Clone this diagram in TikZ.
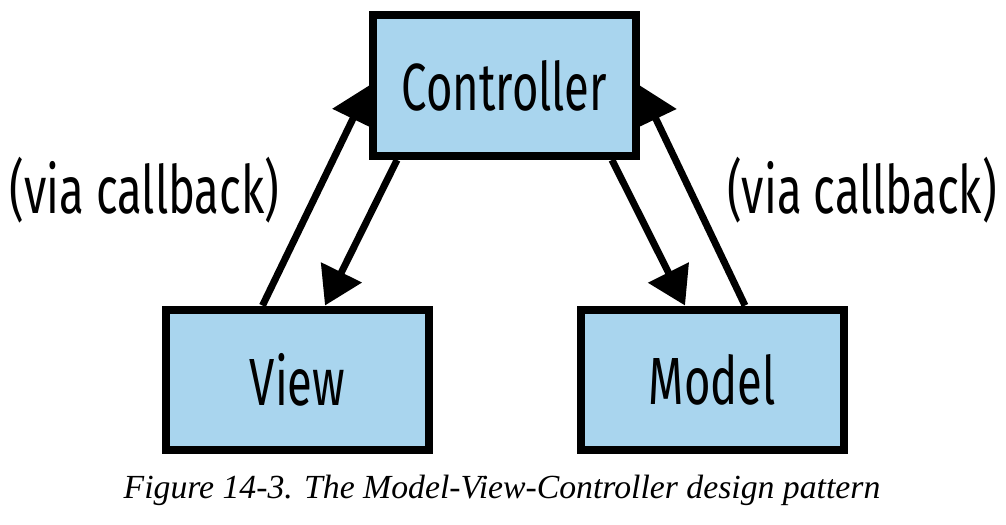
\documentclass[tikz,border=0pt]{standalone}
\usepackage{fontspec}
\setsansfont{Fira Sans}[FakeStretch=0.68]
\setmainfont{Liberation Serif}
\usetikzlibrary{arrows.meta}
\definecolor{boxblue}{RGB}{169,213,238}
\begin{document}
\begin{tikzpicture}[x=0.02cm,y=-0.02cm,
    box/.style={draw=black, fill=boxblue, line width=0.16cm,
        minimum width=5.26cm, minimum height=2.82cm, inner sep=0pt,
        font=\sffamily\fontsize{38}{40}\selectfont},
    callback/.style={font=\sffamily\fontsize{38}{40}\selectfont},
    link/.style={line width=0.14cm, -{Triangle[length=0.74cm,width=0.88cm]}}]

% keep the page at the size of the figure
\useasboundingbox (0,0) rectangle (1006,524);

% the three parts
\node[box] (controller) at (504.5,85.5) {Controller};
\node[box] (view) at (297.5,380) {View};
\node[box] (model) at (712.5,380) {Model};

% calls go down, callbacks come back up
\draw[link] ([xshift=-0.7cm]view.north) -- (controller.west);
\draw[link] ([xshift=-2.15cm]controller.south) -- ([xshift=0.55cm]view.north);
\draw[link] ([xshift=2.15cm]controller.south) -- ([xshift=-0.55cm]model.north);
\draw[link] ([xshift=0.65cm]model.north) -- (controller.east);

\node[callback] (leftnote) at (144.5,190) {(via callback)};
\node[callback] (rightnote) at (862,190) {(via callback)};

% caption
\node[font=\itshape\fontsize{19.2}{22}\selectfont] (caption) at (502,490)
    {Figure 14-3. The Model-View-Controller design pattern};
\end{tikzpicture}
\end{document}
